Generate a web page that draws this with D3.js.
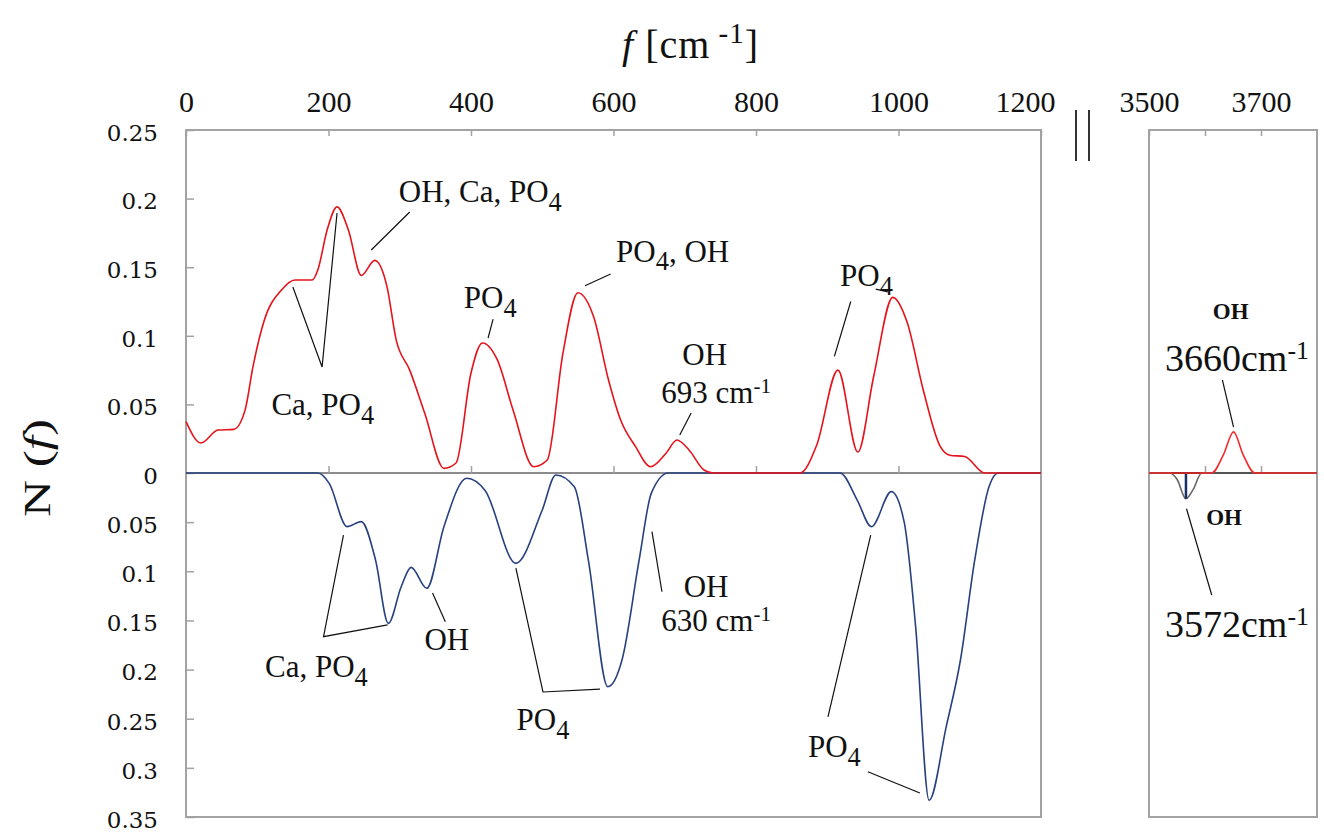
<!DOCTYPE html>
<html>
<head>
<meta charset="utf-8">
<script src="https://cdn.jsdelivr.net/npm/d3@7"></script>
<style>
  body { margin: 0; background: #fff; }
  text { font-family: "Liberation Serif", "Times New Roman", serif; fill: #111; }
  .ylab text { font-family: "DejaVu Serif", serif; font-size: 23px; }
  .xlab text { font-family: "Liberation Serif", serif; font-size: 30px; }
</style>
</head>
<body>
<svg id="chart" width="1324" height="834"></svg>
<script>
// upper spectrum (red), frequency in cm-1 and N(f)
var redFreq = [0, 21, 45, 67, 83, 94, 110, 134, 153, 177, 185, 198, 212, 228, 246, 265, 282, 295, 314, 335,
               362, 379, 400, 416, 437, 459, 488, 507, 529, 550, 572, 593, 610, 631, 652, 674, 689, 706, 727, 740,
               862, 885, 915, 943, 965, 992, 1012, 1035, 1058, 1072, 1093, 1121, 1200];
var redVal  = [0.0374, 0.0219, 0.0313, 0.0318, 0.046, 0.0775, 0.1115, 0.1334, 0.1407, 0.1407, 0.148, 0.177, 0.194, 0.177, 0.144, 0.155, 0.136, 0.097, 0.075, 0.0437,
               0.0034, 0.0073, 0.0729, 0.0948, 0.0824, 0.0459, 0.0046, 0.0095, 0.0872, 0.1314, 0.114, 0.0678, 0.0386, 0.0192, 0.0046, 0.0146, 0.024, 0.0168, 0.0022, 0,
               0, 0.02, 0.075, 0.0153, 0.07, 0.128, 0.11, 0.06, 0.02, 0.013, 0.012, 0, 0];

// lower spectrum (blue), plotted downward
var blueFreq = [0, 185, 201, 226, 246, 266, 284, 302, 316, 338, 362, 394, 420, 463, 500, 519, 545, 565, 592, 612,
                636, 653, 677, 918, 942, 962, 990, 1008, 1024, 1043, 1067, 1087, 1107, 1127, 1140, 1200];
var blueVal  = [0, 0, 0.0105, 0.0546, 0.0495, 0.0885, 0.153, 0.1157, 0.096, 0.1173, 0.0546, 0.0054, 0.018, 0.0919, 0.0376, 0.002, 0.014, 0.09, 0.2174, 0.19,
                0.0885, 0.0207, 0, 0, 0.0275, 0.0546, 0.019, 0.05, 0.156, 0.333, 0.258, 0.19, 0.0885, 0.014, 0, 0];

// high frequency window
var hiRedFreq = [3500, 3612, 3633, 3651, 3668, 3689, 3800];
var hiRedVal  = [0, 0, 0.0134, 0.030, 0.0134, 0, 0];
var hiBlueFreq = [3500, 3537, 3550, 3566, 3579, 3594, 3800];
var hiBlueVal  = [0, 0, 0.0064, 0.0262, 0.0167, 0, 0];

var xTicks = [0, 200, 400, 600, 800, 1000, 1200];
var hiTicks = [3500, 3600, 3700];
var hiTickLabels = [3500, 3700];
var upTicks = [0, 0.05, 0.1, 0.15, 0.2, 0.25];
var downTicks = [0.05, 0.1, 0.15, 0.2, 0.25, 0.3, 0.35];

// annotations: [freq, value, text] ; leaders: list of [freq, value] points
var upNotes = [
  [413, 0.1975, "OH, Ca, PO_4"],
  [192, 0.0423, "Ca, PO_4"],
  [427, 0.120, "PO_4"],
  [683, 0.154, "PO_4, OH"],
  [728, 0.0785, "OH"],
  [744, 0.051, "693 cm^-1"],
  [955, 0.136, "PO_4"]
];
var upLeaders = [
  [[314, 0.1902], [260, 0.1625]],
  [[150, 0.1356], [191, 0.0773], [212, 0.1895]],
  [[431, 0.1122], [424, 0.0984]],
  [[596, 0.145], [560, 0.1365]],
  [[709, 0.0437], [693, 0.0277]],
  [[933, 0.125], [910, 0.085]],
  [[968, 0.134], [985, 0.132]]
];
var downNotes = [
  [183, 0.2075, "Ca, PO_4"],
  [366, 0.18, "OH"],
  [501, 0.2615, "PO_4"],
  [730, 0.1265, "OH"],
  [744, 0.1605, "630 cm^-1"],
  [910, 0.2889, "PO_4"]
];
var downLeaders = [
  [[221, 0.0631], [193, 0.1665], [283, 0.1546]],
  [[346, 0.1221], [364, 0.1513]],
  [[463, 0.0967], [501, 0.2228], [581, 0.2198]],
  [[654, 0.0597], [668, 0.1208]],
  [[961, 0.0631], [901, 0.2482]],
  [[957, 0.3039], [1030, 0.3256]]
];
var hiUpNotes = [[3646, 0.1122, "OH", 23], [3657, 0.0743, "3660cm^-1", 38]];
var hiUpLeaders = [[[3631, 0.0678], [3651, 0.0335]]];
var hiDownNotes = [[3634, 0.0529, "OH", 23], [3657, 0.1669, "3572cm^-1", 38]];
var hiDownLeaders = [[[3567, 0.0364], [3612, 0.1241]]];

var svg = d3.select("#chart");

var x = d3.scaleLinear().domain([0, 1200]).range([186, 1041]);
var xHi = d3.scaleLinear().domain([3500, 3800]).range([1149, 1317]);
var yUp = d3.scaleLinear().domain([0, 0.25]).range([473, 130]);
var yDown = d3.scaleLinear().domain([0, 0.35]).range([473, 817]);

var frame = "#a3a3a3";

// panels
svg.append("rect")
    .attr("x", x(0)).attr("y", yUp(0.25))
    .attr("width", x(1200) - x(0)).attr("height", yDown(0.35) - yUp(0.25))
    .attr("fill", "none").attr("stroke", frame).attr("stroke-width", 2);
svg.append("rect")
    .attr("x", xHi(3500)).attr("y", yUp(0.25))
    .attr("width", xHi(3800) - xHi(3500)).attr("height", yDown(0.35) - yUp(0.25))
    .attr("fill", "none").attr("stroke", frame).attr("stroke-width", 2);

function styleAxis(g) {
  g.select(".domain").remove();
  g.attr("font-family", null).attr("font-size", null);
  g.selectAll(".tick line").attr("stroke", frame).attr("stroke-width", 1.5);
}

// top axes
var topAxis = svg.append("g").attr("class", "xlab")
    .attr("transform", "translate(0," + yUp(0.25) + ")")
    .call(d3.axisTop(x).tickValues(xTicks).tickSizeInner(-6).tickSizeOuter(0).tickPadding(18)
      .tickFormat(d3.format("d")))
    .call(styleAxis);
// last label sits left of the break marks
topAxis.selectAll(".tick text").filter(function(d) { return d === 1200; }).attr("dx", -16);

svg.append("g").attr("class", "xlab")
    .attr("transform", "translate(0," + yUp(0.25) + ")")
    .call(d3.axisTop(xHi).tickValues(hiTicks).tickSizeInner(-6).tickSizeOuter(0).tickPadding(18)
      .tickFormat(function(d) { return hiTickLabels.indexOf(d) >= 0 ? d : ""; }))
    .call(styleAxis);

// left axes (both halves positive)
svg.append("g").attr("class", "ylab")
    .attr("transform", "translate(" + x(0) + ",0)")
    .call(d3.axisLeft(yUp).tickValues(upTicks).tickSizeInner(-8).tickSizeOuter(0).tickPadding(28)
      .tickFormat(function(d) { return +d.toFixed(2); }))
    .call(styleAxis);
svg.append("g").attr("class", "ylab")
    .attr("transform", "translate(" + x(0) + ",0)")
    .call(d3.axisLeft(yDown).tickValues(downTicks).tickSizeInner(-8).tickSizeOuter(0).tickPadding(28)
      .tickFormat(function(d) { return +d.toFixed(2); }))
    .call(styleAxis);
svg.selectAll(".ylab text").attr("dy", "0.45em");

// zero lines with small ticks
svg.append("line")
    .attr("x1", x(0)).attr("x2", x(1200)).attr("y1", yUp(0)).attr("y2", yUp(0))
    .attr("stroke", "#8c8c8c").attr("stroke-width", 2);
svg.append("g")
    .attr("transform", "translate(0," + yUp(0) + ")")
    .call(d3.axisTop(x).tickValues(xTicks.slice(1, -1)).tickSize(7).tickFormat(""))
    .call(styleAxis);
svg.append("line")
    .attr("x1", xHi(3500)).attr("x2", xHi(3800)).attr("y1", yUp(0)).attr("y2", yUp(0))
    .attr("stroke", "#222").attr("stroke-width", 2);
svg.append("g")
    .attr("transform", "translate(0," + yUp(0) + ")")
    .call(d3.axisTop(xHi).tickValues(hiTicks.slice(1)).tickSize(7).tickFormat(""))
    .call(styleAxis);

// axis break
[1076, 1089].forEach(function(bx) {
  svg.append("line").attr("x1", bx).attr("x2", bx).attr("y1", 110).attr("y2", 161)
      .attr("stroke", "#333").attr("stroke-width", 2);
});

// curves
var lineDown = d3.line().x(function(d) { return x(d[0]); }).y(function(d) { return yDown(d[1]); }).curve(d3.curveMonotoneX);
var lineUp = d3.line().x(function(d) { return x(d[0]); }).y(function(d) { return yUp(d[1]); }).curve(d3.curveMonotoneX);
var hiDown = d3.line().x(function(d) { return xHi(d[0]); }).y(function(d) { return yDown(d[1]); }).curve(d3.curveMonotoneX);
var hiUp = d3.line().x(function(d) { return xHi(d[0]); }).y(function(d) { return yUp(d[1]); }).curve(d3.curveMonotoneX);

svg.append("path").datum(d3.zip(blueFreq, blueVal))
    .attr("d", lineDown).attr("fill", "none").attr("stroke", "#27407e").attr("stroke-width", 1.6);
svg.append("path").datum(d3.zip(redFreq, redVal))
    .attr("d", lineUp).attr("fill", "none").attr("stroke", "#e5141c").attr("stroke-width", 1.6);

svg.append("path").datum(d3.zip(hiBlueFreq, hiBlueVal))
    .attr("d", hiDown).attr("fill", "none").attr("stroke", "#666").attr("stroke-width", 1.6);
var dipAt = d3.maxIndex(hiBlueVal);
svg.append("line")
    .attr("x1", xHi(hiBlueFreq[dipAt])).attr("x2", xHi(hiBlueFreq[dipAt]))
    .attr("y1", yDown(0)).attr("y2", yDown(hiBlueVal[dipAt]))
    .attr("stroke", "#1b2f6b").attr("stroke-width", 2.5);
svg.append("path").datum(d3.zip(hiRedFreq, hiRedVal))
    .attr("d", hiUp).attr("fill", "none").attr("stroke", "#f22a2a").attr("stroke-width", 1.6);

// rich text: _4 subscript, ^-1 superscript
function richText(g, px, py, str, size) {
  var t = g.append("text").attr("x", px).attr("y", py)
      .attr("text-anchor", "middle")
      .style("font-family", "'Liberation Serif', serif")
      .style("font-size", size + "px");
  if (size < 30) t.style("font-weight", "bold");
  var shift = 0;
  str.split(/(_\d|\^-?\d)/).forEach(function(part) {
    if (!part) return;
    var ts = t.append("tspan");
    if (part[0] === "_") {
      ts.text(part.slice(1)).attr("dy", 0.28 * size - shift).style("font-size", 0.85 * size + "px");
      shift = 0.28 * size;
    } else if (part[0] === "^") {
      ts.text(part.slice(1)).attr("dy", -0.32 * size - shift).style("font-size", 0.68 * size + "px");
      shift = -0.32 * size;
    } else {
      ts.text(part).attr("dy", -shift);
      shift = 0;
    }
  });
  return t;
}

function leaders(g, list, sx, sy) {
  var ln = d3.line().x(function(d) { return sx(d[0]); }).y(function(d) { return sy(d[1]); });
  g.selectAll(null).data(list).enter().append("path")
      .attr("d", ln).attr("fill", "none").attr("stroke", "#111").attr("stroke-width", 1.2);
}

var notes = svg.append("g");
leaders(notes, upLeaders, x, yUp);
leaders(notes, downLeaders, x, yDown);
leaders(notes, hiUpLeaders, xHi, yUp);
leaders(notes, hiDownLeaders, xHi, yDown);
upNotes.forEach(function(n) { richText(notes, x(n[0]), yUp(n[1]), n[2], 31); });
downNotes.forEach(function(n) { richText(notes, x(n[0]), yDown(n[1]), n[2], 31); });
hiUpNotes.forEach(function(n) { richText(notes, xHi(n[0]), yUp(n[1]), n[2], n[3]); });
hiDownNotes.forEach(function(n) { richText(notes, xHi(n[0]), yDown(n[1]), n[2], n[3]); });

// titles
var title = svg.append("text").attr("x", 622).attr("y", 58)
    .style("font-size", "40px").style("letter-spacing", "1px");
title.append("tspan").style("font-style", "italic").text("f");
title.append("tspan").text(" [cm");
title.append("tspan").attr("dy", -15).style("font-size", "29px").text(" -1");
title.append("tspan").attr("dy", 15).text("]");

var ytitle = svg.append("text")
    .attr("transform", "translate(50,468) rotate(-90)")
    .attr("text-anchor", "middle")
    .attr("textLength", 98).attr("lengthAdjust", "spacingAndGlyphs")
    .style("font-size", "38px");
ytitle.append("tspan").text("N (");
ytitle.append("tspan").style("font-style", "italic").text("f");
ytitle.append("tspan").text(")");
</script>
</body>
</html>
